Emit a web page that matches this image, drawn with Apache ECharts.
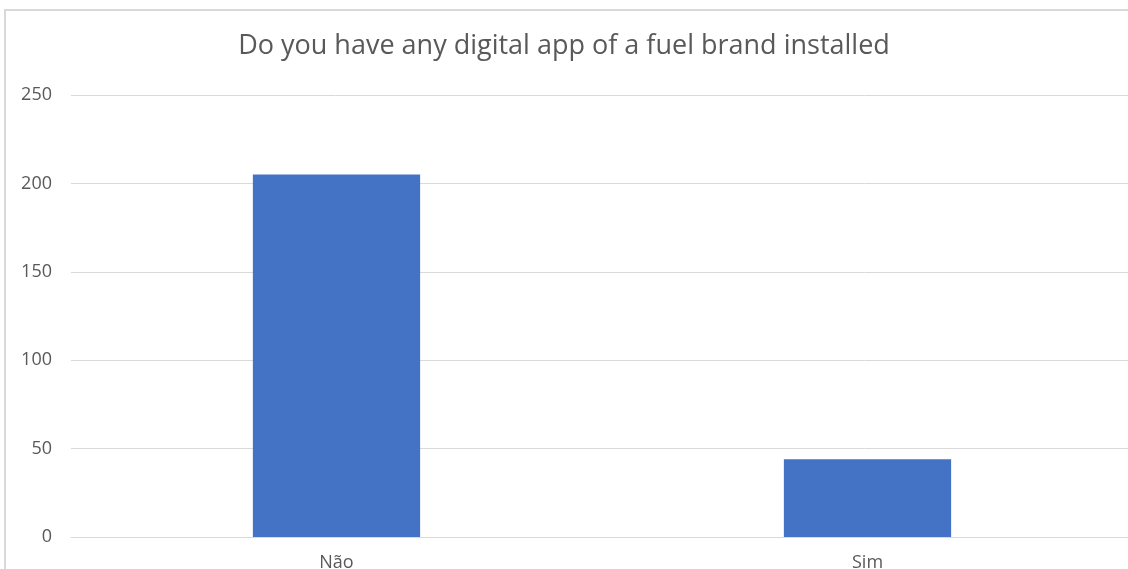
<!DOCTYPE html>
<html>
<head>
<meta charset="utf-8">
<script src="https://cdn.jsdelivr.net/npm/echarts@6/dist/echarts.min.js"></script>
<style>
  html, body { margin: 0; padding: 0; background: #fff; }
  #chart { width: 1128px; height: 569px; }
</style>
</head>
<body>
<div id="chart"></div>
<script>
// Survey answers: does the respondent have a fuel brand app installed
const categories = ['Não', 'Sim'];
const counts = [205, 44];
const yTicks = { min: 0, max: 250, interval: 50 };

const chart = echarts.init(document.getElementById('chart'));
chart.setOption({
  animation: false,
  backgroundColor: '#ffffff',
  title: {
    text: 'Do you have any digital app of a fuel brand installed',
    left: 'center',
    top: 28,
    textStyle: {
      fontFamily: 'Open Sans',
      fontWeight: 'normal',
      fontSize: 27,
      color: '#595959'
    }
  },
  graphic: [{
    type: 'rect',
    shape: { x: 5, y: 10, width: 1200, height: 700 },
    style: { fill: 'none', stroke: '#d9d9d9', lineWidth: 2 },
    silent: true
  }],
  grid: {
    left: 71, width: 1062, top: 95, bottom: 32,
    outerBoundsMode: 'none'
  },
  xAxis: {
    type: 'category',
    data: categories,
    axisTick: { show: false },
    axisLine: { lineStyle: { color: '#d9d9d9', width: 1 } },
    axisLabel: {
      margin: 17,
      fontFamily: 'Open Sans',
      fontSize: 18,
      color: '#595959'
    }
  },
  yAxis: {
    type: 'value',
    min: yTicks.min,
    max: yTicks.max,
    interval: yTicks.interval,
    axisLine: { show: false },
    axisTick: { show: false },
    splitLine: { lineStyle: { color: '#d9d9d9', width: 1 } },
    axisLabel: {
      margin: 19,
      fontFamily: 'Open Sans',
      fontSize: 18,
      color: '#595959'
    }
  },
  series: [{
    type: 'bar',
    data: counts,
    barWidth: '31.5%',
    itemStyle: { color: '#4472c4' }
  }]
});
</script>
</body>
</html>
